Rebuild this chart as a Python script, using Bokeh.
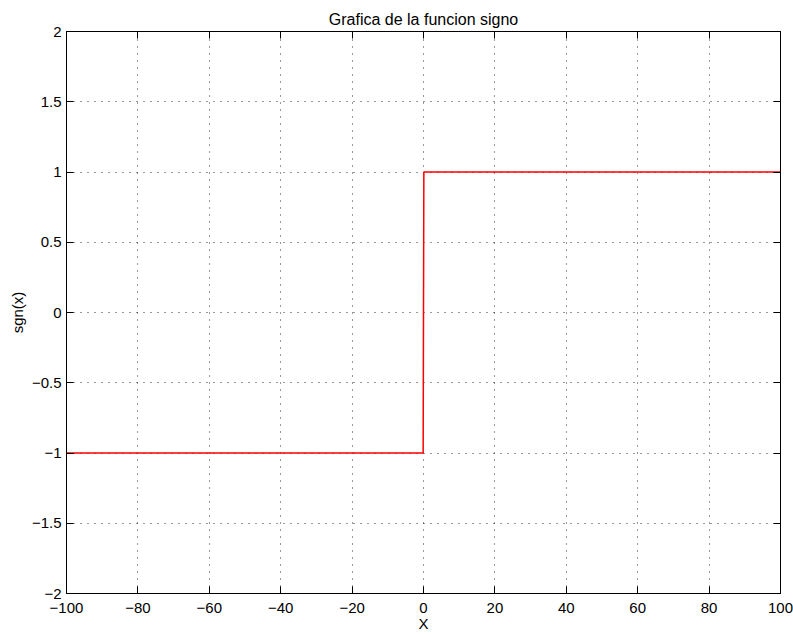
from bokeh.plotting import figure
from bokeh.models import LinearAxis, FixedTicker, Range1d, CustomJSTickFormatter
from bokeh.embed import file_html
from bokeh.resources import INLINE

# data
x_vals = [-100, -0.1, 0, 0.1, 100]
y_vals = [-1, -1, 0, 1, 1]
x_ticks = [-100, -80, -60, -40, -20, 0, 20, 40, 60, 80, 100]
y_ticks = [-2, -1.5, -1, -0.5, 0, 0.5, 1, 1.5, 2]
title_text = "Grafica de la funcion signo"
x_label = "X"
y_label = "sgn(x)"

FONT = "Liberation Sans"
FS = "15px"


def fmt(v):
    s = ("%g" % v)
    return s.replace("-", "\u2212")


p = figure(width=793, height=634, x_range=Range1d(x_ticks[0], x_ticks[-1]),
           y_range=Range1d(y_ticks[0], y_ticks[-1]),
           output_backend="svg", toolbar_location=None,
           min_border_left=66, min_border_right=13, min_border_top=31, min_border_bottom=41)

p.title.text = title_text
p.title.align = "center"
p.title.vertical_align = "middle"
p.title.text_font = FONT
p.title.text_font_size = "16px"
p.title.text_font_style = "normal"
p.title.text_color = "black"
p.title.standoff = 5

p.line(x_vals, y_vals, line_color="#ff0000", line_width=1.5)

p.outline_line_color = "black"
p.outline_line_width = 1
p.outline_line_alpha = 1

for ax, ticks in ((p.xaxis[0], x_ticks), (p.yaxis[0], y_ticks)):
    ax.ticker = FixedTicker(ticks=ticks)
    ax.major_label_overrides = {t: fmt(t) for t in ticks}
    ax.major_tick_in = 7
    ax.major_tick_out = 0
    ax.minor_tick_in = 0
    ax.minor_tick_out = 0
    ax.axis_line_color = "black"
    ax.major_tick_line_color = "black"
    ax.major_label_text_font = FONT
    ax.major_label_text_font_size = FS
    ax.major_label_text_color = "black"
    ax.axis_label_text_font = FONT
    ax.axis_label_text_font_size = FS
    ax.axis_label_text_font_style = "normal"
    ax.axis_label_text_color = "black"

p.xaxis[0].axis_label = x_label
p.yaxis[0].axis_label = y_label
p.xaxis[0].major_label_standoff = 9
p.xaxis[0].axis_label_standoff = -1
p.yaxis[0].major_label_standoff = 5
p.yaxis[0].axis_label_standoff = 3

blank = CustomJSTickFormatter(code="return '';")
for loc, ticks in (("right", y_ticks), ("above", x_ticks)):
    ax = LinearAxis(ticker=FixedTicker(ticks=ticks), formatter=blank)
    ax.major_tick_in = 7
    ax.major_tick_out = 0
    ax.minor_tick_in = 0
    ax.minor_tick_out = 0
    ax.major_label_standoff = 0
    ax.major_label_text_font_size = "1px"
    ax.axis_line_color = "black"
    ax.major_tick_line_color = "black"
    p.add_layout(ax, loc)

for g, ticks in ((p.xgrid[0], x_ticks), (p.ygrid[0], y_ticks)):
    g.ticker = FixedTicker(ticks=ticks)
    g.grid_line_color = "black"
    g.grid_line_dash = "1 6"
    g.grid_line_width = 1
    g.grid_line_alpha = 0.8

open("out.html", "w").write(file_html(p, INLINE))
